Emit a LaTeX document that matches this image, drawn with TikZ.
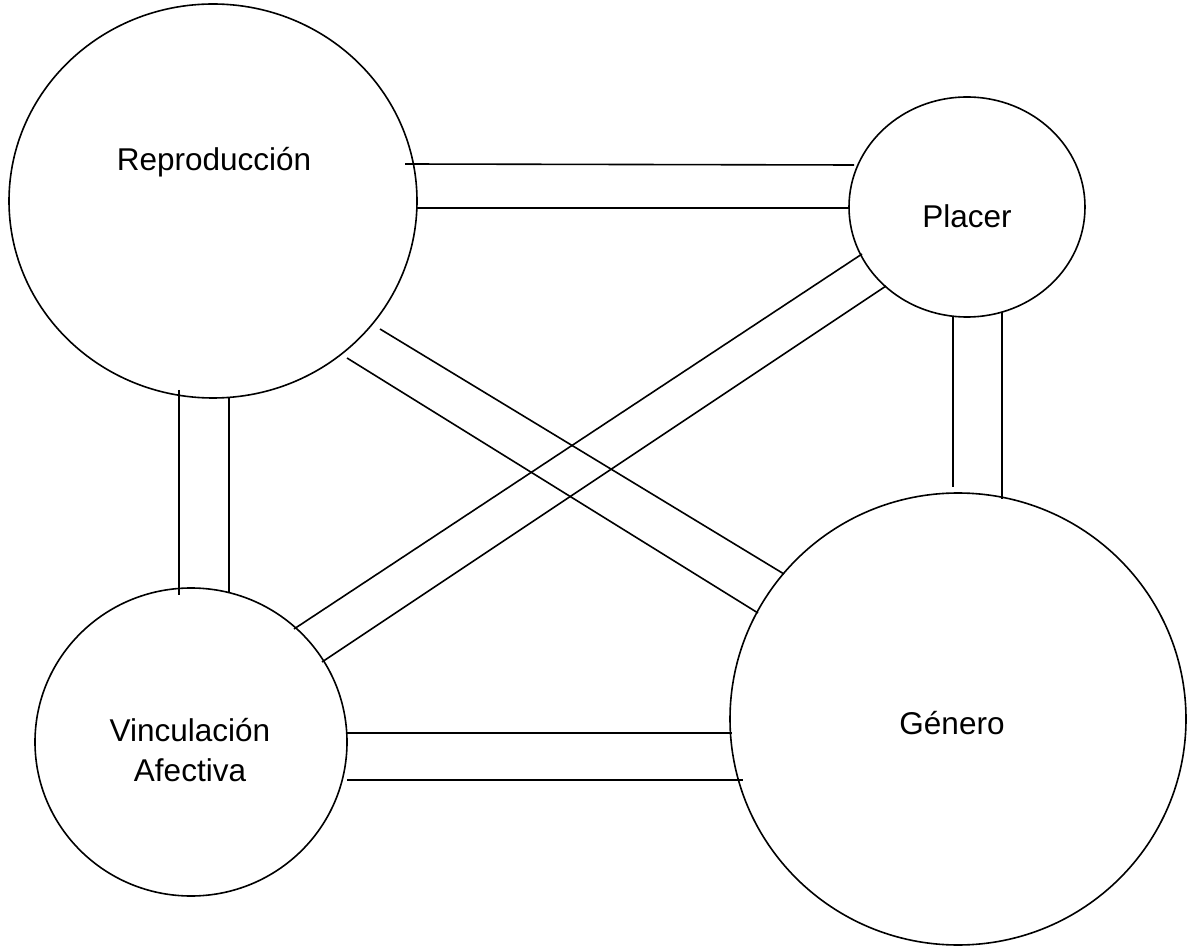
\documentclass[tikz,border=0pt]{standalone}
\usepackage{fontspec}
\setmainfont{Liberation Sans}
\usetikzlibrary{shapes.geometric}
\begin{document}
\begin{tikzpicture}[x=1pt,y=-1pt,
  bubble/.style={draw, ellipse, line width=1.6pt, inner sep=0pt},
  lbl/.style={font=\fontsize{31.5}{40}\selectfont, align=center, inner sep=0pt},
  link/.style={line width=1.6pt}]
\useasboundingbox (0,0) rectangle (1187,949);
% circles
\node[bubble, minimum width=408pt, minimum height=394pt] (rep) at (213,201) {};
\node[bubble, minimum width=236pt, minimum height=220pt] (pla) at (967,207) {};
\node[bubble, minimum width=312pt, minimum height=308pt] (vin) at (191,742) {};
\node[bubble, minimum width=456pt, minimum height=452pt] (gen) at (958,719) {};
% labels
\node[lbl] (repT) at (214,162) {Reproducción};
\node[lbl] (plaT) at (967,216) {Placer};
\node[lbl] (vinT) at (190,750) {Vinculación\\Afectiva};
\node[lbl] (genT) at (952,723) {Género};
% connector end points
\coordinate (rp1) at (405,164); \coordinate (pr1) at (854,165);
\coordinate (rp2) at (417,208); \coordinate (pr2) at (849,208);
\coordinate (rv1) at (179,390); \coordinate (vr1) at (179,595);
\coordinate (rv2) at (229,398); \coordinate (vr2) at (229,592);
\coordinate (pg1) at (953,316); \coordinate (gp1) at (953,487);
\coordinate (pg2) at (1002,312); \coordinate (gp2) at (1002,499);
\coordinate (rg1) at (380,329); \coordinate (gr1) at (784,574);
\coordinate (rg2) at (347,358); \coordinate (gr2) at (758,613);
\coordinate (pv1) at (862,254); \coordinate (vp1) at (294,629);
\coordinate (pv2) at (886,286); \coordinate (vp2) at (322,662);
\coordinate (vg1) at (347,733); \coordinate (gv1) at (732,733);
\coordinate (vg2) at (347,780); \coordinate (gv2) at (743,780);
% connectors
\draw[link] (rp1) -- (pr1);
\draw[link] (rp2) -- (pr2);
\draw[link] (rv1) -- (vr1);
\draw[link] (rv2) -- (vr2);
\draw[link] (pg1) -- (gp1);
\draw[link] (pg2) -- (gp2);
\draw[link] (rg1) -- (gr1);
\draw[link] (rg2) -- (gr2);
\draw[link] (pv1) -- (vp1);
\draw[link] (pv2) -- (vp2);
\draw[link] (vg1) -- (gv1);
\draw[link] (vg2) -- (gv2);
\end{tikzpicture}
\end{document}
